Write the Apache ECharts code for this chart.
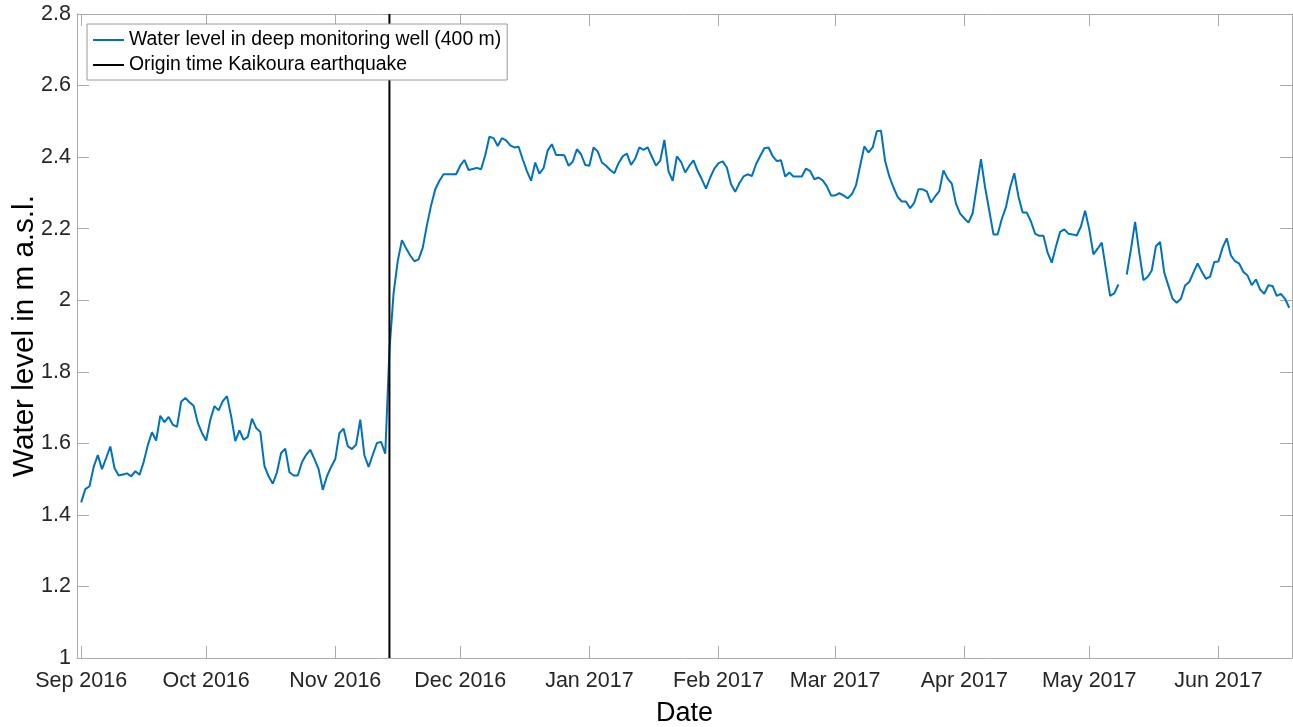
<!DOCTYPE html>
<html>
<head>
<meta charset="utf-8">
<title>Water level – deep monitoring well</title>
<script src="https://cdn.jsdelivr.net/npm/echarts@6/dist/echarts.min.js"></script>
<style>
  html, body { margin: 0; padding: 0; background: #ffffff; }
  #chart { width: 1293px; height: 727px; }
</style>
</head>
<body>
<div id="chart"></div>
<script>
// Daily water level (m a.s.l.) in the 400 m deep monitoring well, one array per month.
const startDate = '2016-09-01';
const sep2016 = [1.435, 1.472, 1.480, 1.534, 1.567, 1.528, 1.559, 1.591, 1.531, 1.510,
                 1.513, 1.516, 1.508, 1.522, 1.512, 1.548, 1.595, 1.631, 1.608, 1.677,
                 1.659, 1.674, 1.652, 1.646, 1.716, 1.727, 1.715, 1.705, 1.657, 1.629];
const oct2016 = [1.608, 1.666, 1.704, 1.692, 1.718, 1.732, 1.676, 1.606, 1.636, 1.610,
                 1.618, 1.669, 1.643, 1.632, 1.536, 1.508, 1.487, 1.519, 1.573, 1.585,
                 1.519, 1.510, 1.510, 1.547, 1.568, 1.582, 1.556, 1.528, 1.470, 1.508, 1.534];
const nov2016 = [1.556, 1.629, 1.641, 1.592, 1.584, 1.596, 1.666, 1.566, 1.534, 1.568,
                 1.601, 1.604, 1.571, 1.860, 2.020, 2.110, 2.168, 2.145, 2.125, 2.109,
                 2.114, 2.147, 2.210, 2.265, 2.310, 2.334, 2.352, 2.352, 2.352, 2.352];
const dec2016 = [2.376, 2.392, 2.364, 2.367, 2.370, 2.366, 2.405, 2.457, 2.453, 2.431,
                 2.453, 2.447, 2.433, 2.427, 2.429, 2.394, 2.361, 2.334, 2.385, 2.354,
                 2.369, 2.419, 2.436, 2.406, 2.406, 2.405, 2.376, 2.387, 2.422, 2.408, 2.378];
const jan2017 = [2.376, 2.427, 2.416, 2.385, 2.376, 2.364, 2.355, 2.383, 2.402, 2.410,
                 2.378, 2.396, 2.427, 2.420, 2.427, 2.401, 2.376, 2.390, 2.448, 2.360,
                 2.334, 2.402, 2.387, 2.357, 2.376, 2.391, 2.361, 2.338, 2.312, 2.343, 2.368];
const feb2017 = [2.383, 2.388, 2.371, 2.324, 2.303, 2.327, 2.346, 2.352, 2.347, 2.380,
                 2.403, 2.425, 2.427, 2.403, 2.389, 2.391, 2.346, 2.357, 2.346, 2.346,
                 2.346, 2.368, 2.361, 2.338, 2.343, 2.335, 2.319, 2.293];
const mar2017 = [2.293, 2.299, 2.293, 2.285, 2.296, 2.321, 2.376, 2.430, 2.413, 2.427,
                 2.472, 2.474, 2.389, 2.346, 2.315, 2.289, 2.276, 2.276, 2.257, 2.273,
                 2.310, 2.310, 2.304, 2.273, 2.290, 2.305, 2.363, 2.340, 2.326, 2.270, 2.242];
const apr2017 = [2.229, 2.217, 2.243, 2.319, 2.394, 2.315, 2.250, 2.184, 2.184, 2.227,
                 2.260, 2.315, 2.355, 2.290, 2.245, 2.245, 2.220, 2.186, 2.180, 2.180,
                 2.133, 2.105, 2.150, 2.191, 2.198, 2.186, 2.184, 2.181, 2.206, 2.250];
const may2017 = [2.198, 2.128, 2.144, 2.161, 2.086, 2.012, 2.019, 2.044, null, 2.072,
                 2.142, 2.219, 2.133, 2.056, 2.065, 2.083, 2.151, 2.163, 2.077, 2.040,
                 2.004, 1.993, 2.004, 2.041, 2.051, 2.077, 2.103, 2.080, 2.060, 2.066, 2.107];
const jun2017 = [2.108, 2.147, 2.173, 2.125, 2.109, 2.102, 2.079, 2.069, 2.042, 2.058,
                 2.030, 2.018, 2.042, 2.040, 2.012, 2.018, 2.004, 1.979];

// Kaikoura earthquake origin time (NZDT)
const quakeTime = '2016-11-14 00:02';

// Axis extent and month ticks
const xStart = '2016-08-31';
const xEnd = '2017-06-18 16:00';
const monthTicks = ['2016-09-01', '2016-10-01', '2016-11-01', '2016-12-01', '2017-01-01',
                    '2017-02-01', '2017-03-01', '2017-04-01', '2017-05-01', '2017-06-01'];
const monthNames = ['Jan', 'Feb', 'Mar', 'Apr', 'May', 'Jun', 'Jul', 'Aug', 'Sep', 'Oct', 'Nov', 'Dec'];
const yTicks = { min: 1, max: 2.8, step: 0.2 };

function toTime(s) {
  const [datePart, timePart] = s.split(' ');
  const [y, m, d] = datePart.split('-').map(Number);
  let hh = 0, mm = 0;
  if (timePart) { [hh, mm] = timePart.split(':').map(Number); }
  return Date.UTC(y, m - 1, d, hh, mm);
}

const DAY = 86400000;
const allDays = [].concat(sep2016, oct2016, nov2016, dec2016, jan2017,
                          feb2017, mar2017, apr2017, may2017, jun2017);
const t0 = toTime(startDate);
const levelData = allDays.map((v, i) => [t0 + i * DAY, v === null ? '-' : v]);
const quakeT = toTime(quakeTime);
const tickTimes = monthTicks.map(toTime);

function monthLabel(val) {
  const d = new Date(val);
  return monthNames[d.getUTCMonth()] + ' ' + d.getUTCFullYear();
}

const FONT = "'Liberation Sans', Arial, Helvetica, sans-serif";
const FRAME = '#aaaaaa';
const TEXT = '#262626';

const chart = echarts.init(document.getElementById('chart'), null, { renderer: 'canvas' });

const tickStyle = { show: true, inside: true, length: 12, lineStyle: { color: FRAME, width: 1 } };
const lineStyleFrame = { show: true, lineStyle: { color: FRAME, width: 1 } };

chart.setOption({
  animation: false,
  backgroundColor: '#ffffff',
  textStyle: { fontFamily: FONT },
  grid: { left: 77, right: 1, top: 14, bottom: 69, containLabel: false, outerBoundsMode: 'none' },
  legend: {
    orient: 'vertical',
    left: 87,
    top: 24,
    padding: [5, 6, 4, 6],
    itemGap: 3,
    itemWidth: 31,
    itemHeight: 2,
    icon: 'rect',
    backgroundColor: '#ffffff',
    borderColor: '#9a9a9a',
    borderWidth: 1,
    borderRadius: 0,
    textStyle: { fontSize: 19.4, color: '#000000', fontFamily: FONT, lineHeight: 22 },
    data: [
      { name: 'Water level in deep monitoring well (400 m)' },
      { name: 'Origin time Kaikoura earthquake' }
    ]
  },
  xAxis: [
    {
      type: 'value',
      position: 'bottom',
      min: toTime(xStart),
      max: toTime(xEnd),
      name: 'Date',
      nameLocation: 'middle',
      nameGap: 42,
      nameMoveOverlap: false,
      nameTextStyle: { fontSize: 27, color: '#000000', fontFamily: FONT },
      axisLine: lineStyleFrame,
      axisTick: Object.assign({}, tickStyle, { customValues: tickTimes }),
      splitLine: { show: false },
      axisLabel: {
        customValues: tickTimes,
        margin: 12,
        fontSize: 21.5,
        color: TEXT,
        fontFamily: FONT,
        formatter: monthLabel
      }
    },
    {
      type: 'value',
      position: 'top',
      min: toTime(xStart),
      max: toTime(xEnd),
      axisLine: lineStyleFrame,
      axisTick: Object.assign({}, tickStyle, { customValues: tickTimes }),
      splitLine: { show: false },
      axisLabel: { show: false, customValues: tickTimes }
    }
  ],
  yAxis: [
    {
      type: 'value',
      position: 'left',
      min: yTicks.min,
      max: yTicks.max,
      interval: yTicks.step,
      name: 'Water level in m a.s.l.',
      nameLocation: 'middle',
      nameGap: 37,
      nameMoveOverlap: false,
      nameTextStyle: { fontSize: 29.6, color: '#000000', fontFamily: FONT },
      axisLine: lineStyleFrame,
      axisTick: tickStyle,
      splitLine: { show: false },
      axisLabel: { margin: 6, fontSize: 21.5, color: TEXT, fontFamily: FONT }
    },
    {
      type: 'value',
      position: 'right',
      min: yTicks.min,
      max: yTicks.max,
      interval: yTicks.step,
      axisLine: lineStyleFrame,
      axisTick: tickStyle,
      splitLine: { show: false },
      axisLabel: { show: false }
    }
  ],
  series: [
    {
      name: 'Water level in deep monitoring well (400 m)',
      type: 'line',
      xAxisIndex: 0,
      yAxisIndex: 0,
      data: levelData,
      symbol: 'none',
      connectNulls: false,
      color: '#0072bd',
      lineStyle: { color: '#0072bd', width: 2 },
      z: 2
    },
    {
      name: 'Origin time Kaikoura earthquake',
      type: 'line',
      xAxisIndex: 0,
      yAxisIndex: 0,
      data: [[quakeT, yTicks.min], [quakeT, yTicks.max]],
      symbol: 'none',
      color: '#000000',
      lineStyle: { color: '#000000', width: 2 },
      z: 3
    }
  ]
});
</script>
</body>
</html>
